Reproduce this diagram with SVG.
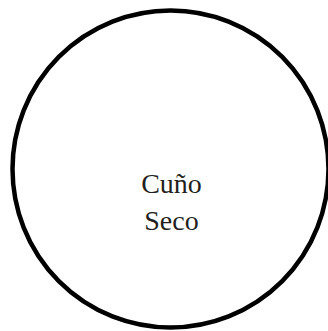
<svg xmlns="http://www.w3.org/2000/svg" width="328" height="331" viewBox="0 0 328 331">
<style>
.node-shape{fill:#ffffff;stroke:#000000;stroke-width:4.5}
.label{font-family:"Liberation Serif","Times New Roman",serif;font-size:28px;fill:#231f20;text-anchor:middle}
</style>
<rect width="328" height="331" fill="#ffffff"/>
<g id="connectors"></g>
<g id="node-cuno-seco">
<ellipse class="node-shape" cx="170.5" cy="169" rx="158" ry="158.5"/>
<text class="label" x="171.5" y="193">Cuño</text>
<text class="label" x="171.5" y="230">Seco</text>
</g>
</svg>
